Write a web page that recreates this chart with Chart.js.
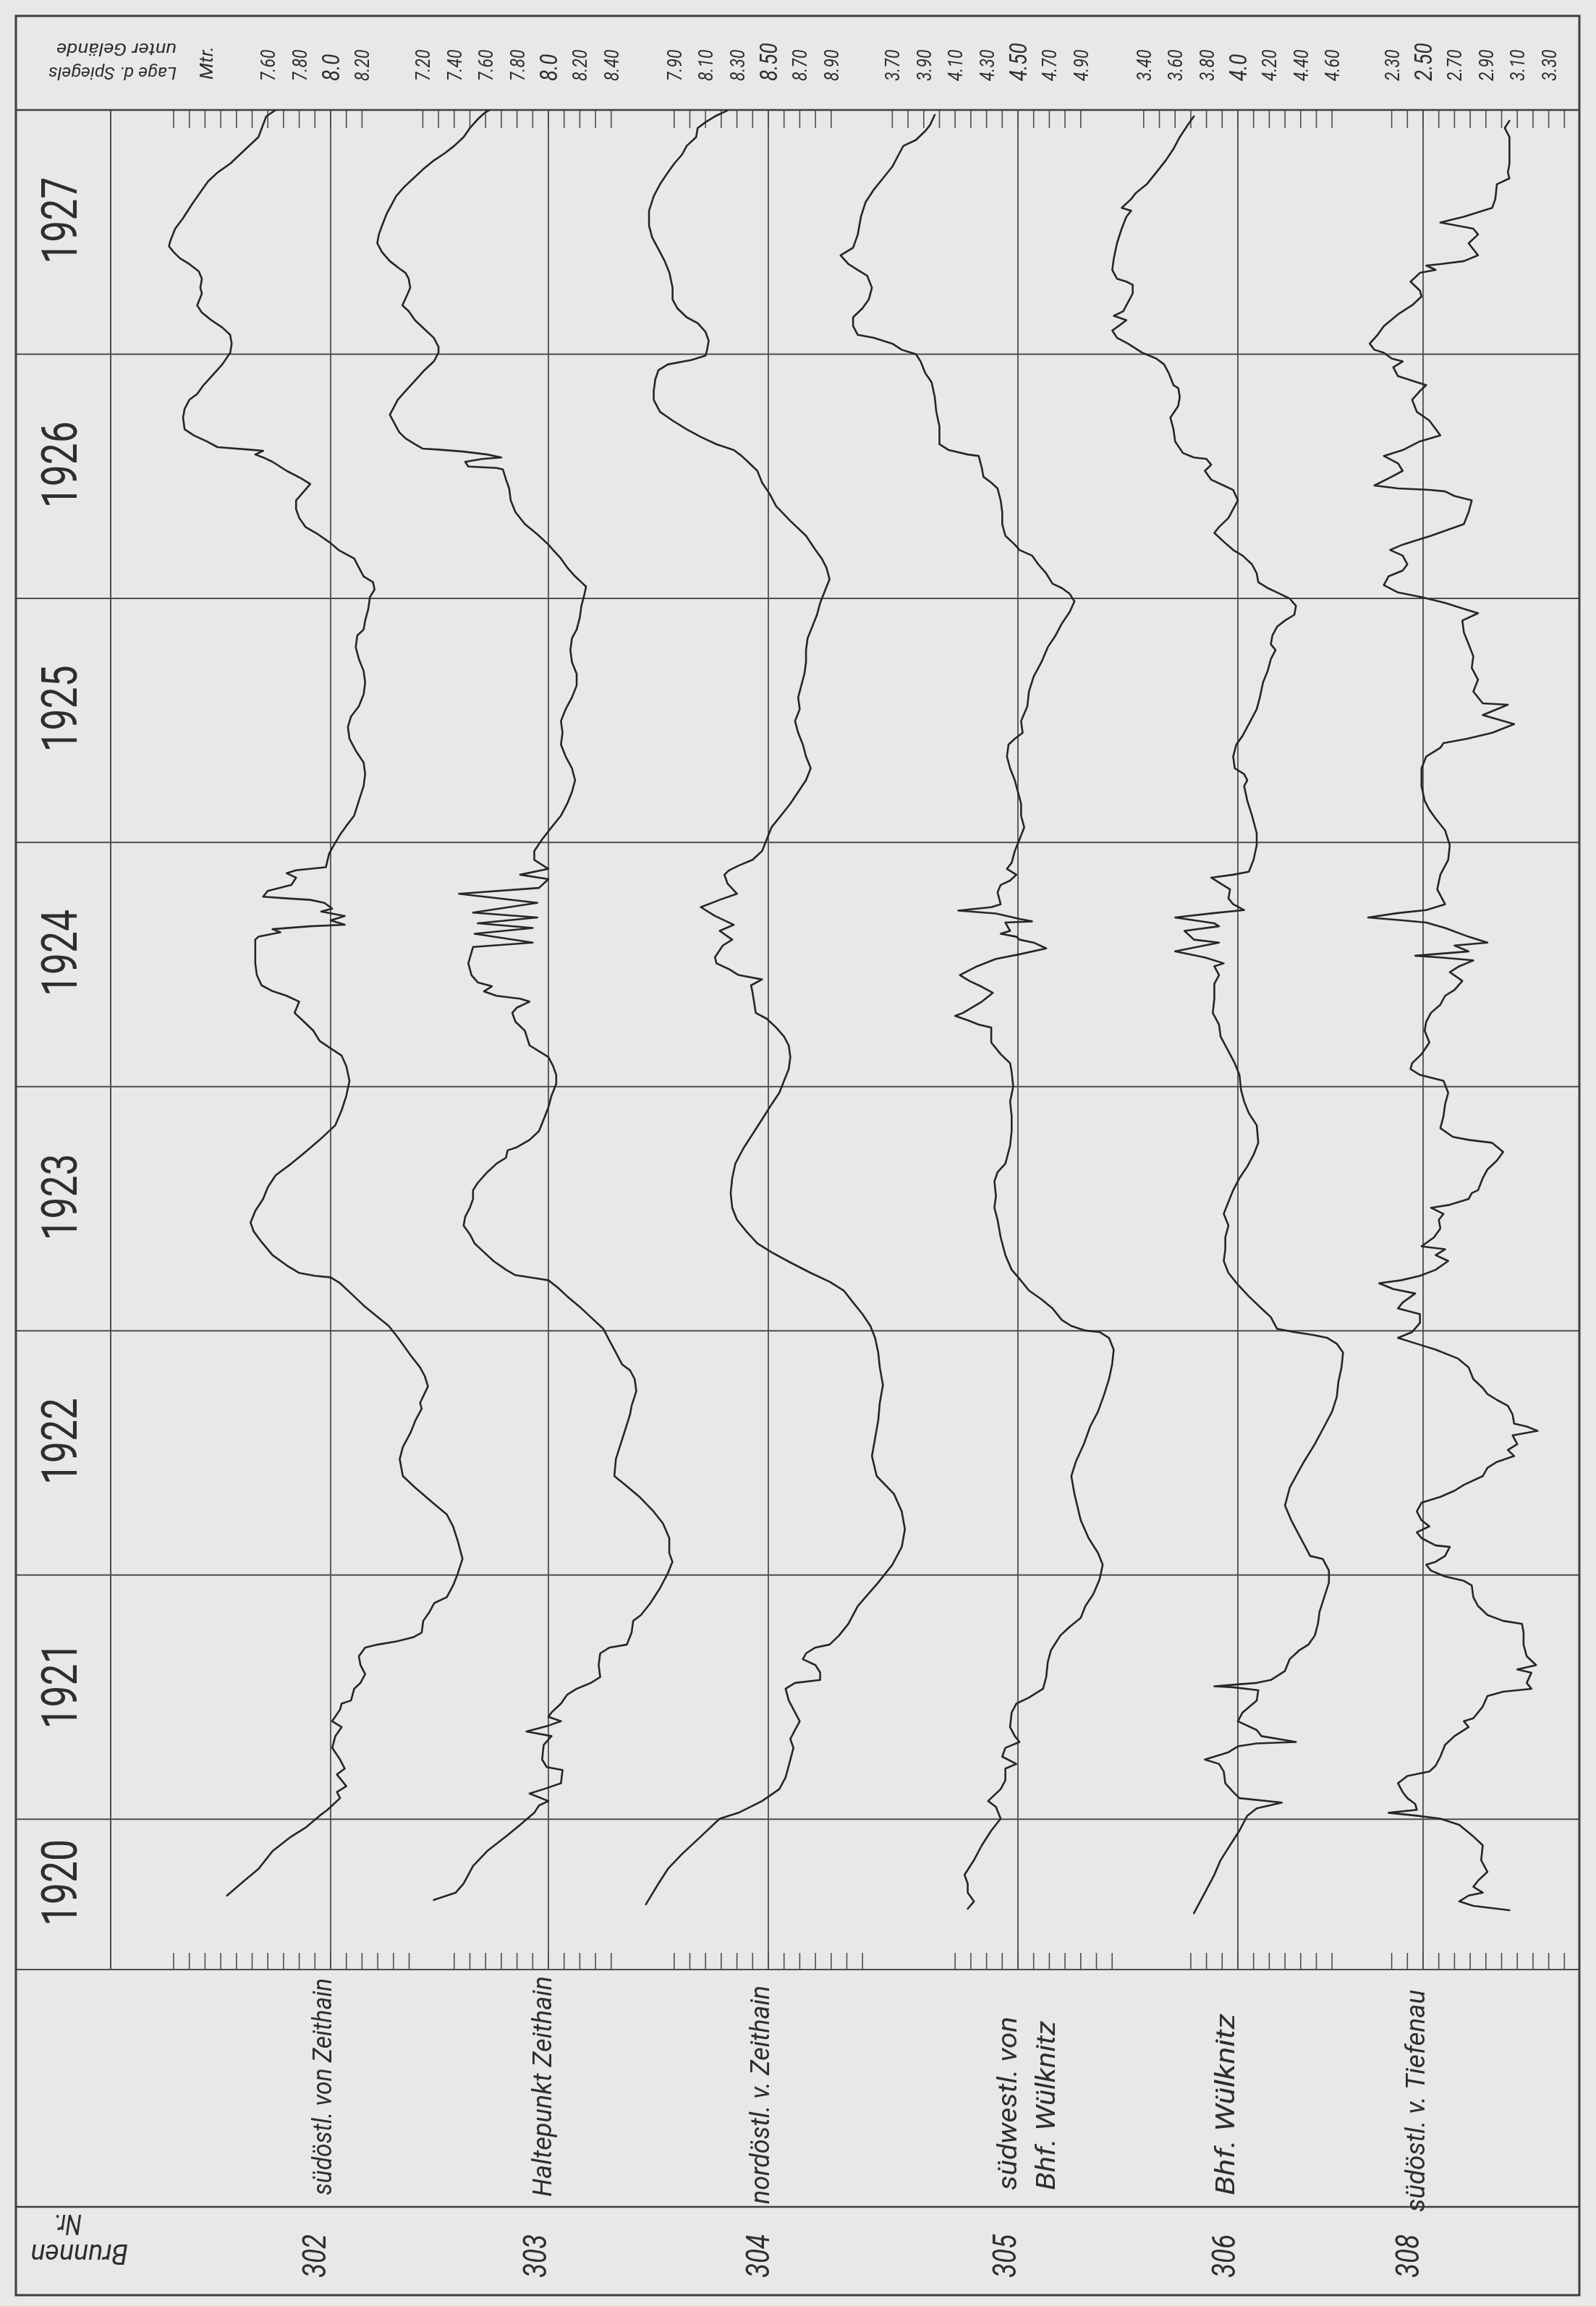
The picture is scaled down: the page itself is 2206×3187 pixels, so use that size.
<!DOCTYPE html>
<html lang="de">
<head>
<meta charset="utf-8">
<title>Brunnen 302–308 · Lage des Spiegels unter Gelände 1920–1927</title>
<script src="https://cdn.jsdelivr.net/npm/chart.js@4.4.1/dist/chart.umd.min.js"></script>
<style>
html,body{margin:0;padding:0;background:#e7e7e5;}
#wrap{position:relative;width:2206px;height:3187px;}
canvas{display:block;}
</style>
</head>
<body>
<div id="wrap"><canvas id="chart" width="2206" height="3187"></canvas></div>
<script>
// ---------------- DATA ----------------
const WELL_IDS = ['302', '303', '304', '305', '306', '308'];
const WELL_NAMES = [
  ['südöstl. von Zeithain'],
  ['Haltepunkt Zeithain'],
  ['nordöstl. v. Zeithain'],
  ['südwestl. von', 'Bhf. Wülknitz'],
  ['Bhf. Wülknitz'],
  ['südöstl. v. Tiefenau']
];
const YEAR_LABELS = ['1920', '1921', '1922', '1923', '1924', '1925', '1926', '1927'];
const YEAR_BOUNDS = [1921, 1922, 1923, 1924, 1925, 1926, 1927, 1928];
const T_START = 1920.384;   // first day shown (about mid May 1920)
const T_END = 1928.0;
// depth (m below ground) of each well's reference grid line
const REF_DEPTH = [8.0, 8.0, 8.5, 4.5, 4.0, 2.5];
// depth tick labels written in the header, per well
const DEPTH_LABELS = [
  ['7.60', '7.80', '8.0', '8.20'],
  ['7.20', '7.40', '7.60', '7.80', '8.0', '8.20', '8.40'],
  ['7.90', '8.10', '8.30', '8.50', '8.70', '8.90'],
  ['3.70', '3.90', '4.10', '4.30', '4.50', '4.70', '4.90'],
  ['3.40', '3.60', '3.80', '4.0', '4.20', '4.40', '4.60'],
  ['2.30', '2.50', '2.70', '2.90', '3.10', '3.30']
];
// 0.1 m tick ranges on the upper and lower axis, per well
const TOP_TICK_RANGE = [[7.0, 8.2], [7.2, 8.4], [7.9, 8.9], [3.7, 4.9], [3.4, 4.6], [2.3, 3.4]];
const BOTTOM_TICK_RANGE = [[7.0, 8.5], [7.4, 8.4], [7.9, 9.1], [4.1, 5.1], [3.7, 4.6], [2.3, 3.4]];

// [time in years, depth of water level below ground in m]
const well302 = [[1928.013,7.68],[1927.974,7.59],[1927.889,7.54],[1927.877,7.52],[1927.835,7.45],[1927.780,7.36],[1927.744,7.28],[1927.708,7.22],[1927.672,7.18],[1927.617,7.12],[1927.557,7.06],[1927.514,7.01],[1927.466,6.98],[1927.442,6.97],[1927.418,7.00],[1927.393,7.04],[1927.369,7.10],[1927.339,7.16],[1927.309,7.18],[1927.272,7.17],[1927.248,7.18],[1927.200,7.15],[1927.170,7.18],[1927.139,7.24],[1927.109,7.31],[1927.079,7.36],[1927.043,7.37],[1927.006,7.36],[1926.958,7.31],[1926.915,7.25],[1926.873,7.19],[1926.837,7.15],[1926.813,7.10],[1926.776,7.07],[1926.740,7.06],[1926.692,7.07],[1926.667,7.13],[1926.643,7.21],[1926.619,7.28],[1926.609,7.48],[1926.604,7.57],[1926.589,7.52],[1926.577,7.57],[1926.559,7.63],[1926.522,7.72],[1926.492,7.81],[1926.468,7.87],[1926.438,7.83],[1926.401,7.78],[1926.365,7.78],[1926.329,7.80],[1926.292,7.84],[1926.262,7.92],[1926.226,8.00],[1926.198,8.05],[1926.163,8.15],[1926.126,8.18],[1926.090,8.21],[1926.066,8.27],[1926.036,8.28],[1926.005,8.25],[1925.957,8.24],[1925.909,8.22],[1925.872,8.21],[1925.848,8.17],[1925.800,8.16],[1925.751,8.18],[1925.703,8.21],[1925.655,8.22],[1925.606,8.21],[1925.558,8.18],[1925.516,8.13],[1925.473,8.11],[1925.425,8.12],[1925.376,8.16],[1925.328,8.21],[1925.280,8.22],[1925.231,8.21],[1925.171,8.18],[1925.110,8.15],[1925.068,8.10],[1925.032,8.06],[1924.989,8.02],[1924.953,7.99],[1924.899,7.97],[1924.886,7.78],[1924.874,7.72],[1924.856,7.78],[1924.826,7.75],[1924.802,7.60],[1924.778,7.57],[1924.771,7.72],[1924.765,7.87],[1924.753,7.96],[1924.729,8.01],[1924.717,7.94],[1924.699,8.09],[1924.681,8.00],[1924.663,8.09],[1924.657,7.87],[1924.645,7.63],[1924.632,7.68],[1924.614,7.54],[1924.602,7.52],[1924.505,7.52],[1924.457,7.53],[1924.415,7.56],[1924.391,7.63],[1924.372,7.72],[1924.348,7.80],[1924.302,7.77],[1924.266,7.83],[1924.229,7.89],[1924.187,7.93],[1924.157,8.00],[1924.127,8.07],[1924.084,8.10],[1924.024,8.12],[1923.963,8.10],[1923.903,8.07],[1923.842,8.03],[1923.782,7.93],[1923.733,7.84],[1923.685,7.75],[1923.637,7.65],[1923.588,7.60],[1923.540,7.57],[1923.491,7.52],[1923.443,7.49],[1923.407,7.51],[1923.364,7.56],[1923.310,7.63],[1923.268,7.72],[1923.237,7.80],[1923.225,7.90],[1923.219,8.00],[1923.195,8.06],[1923.153,8.13],[1923.104,8.21],[1923.056,8.30],[1923.020,8.37],[1922.971,8.43],[1922.899,8.51],[1922.850,8.57],[1922.814,8.60],[1922.772,8.62],[1922.705,8.57],[1922.681,8.58],[1922.633,8.54],[1922.584,8.51],[1922.524,8.46],[1922.475,8.44],[1922.405,8.46],[1922.357,8.54],[1922.296,8.65],[1922.248,8.74],[1922.199,8.78],[1922.139,8.81],[1922.066,8.84],[1922.006,8.81],[1921.957,8.78],[1921.909,8.74],[1921.885,8.66],[1921.849,8.63],[1921.812,8.59],[1921.764,8.58],[1921.746,8.53],[1921.728,8.42],[1921.715,8.30],[1921.703,8.22],[1921.667,8.18],[1921.631,8.19],[1921.594,8.22],[1921.558,8.19],[1921.534,8.15],[1921.486,8.13],[1921.473,8.07],[1921.449,8.06],[1921.401,8.01],[1921.377,8.07],[1921.340,8.03],[1921.292,8.01],[1921.244,8.06],[1921.207,8.09],[1921.183,8.04],[1921.135,8.10],[1921.111,8.04],[1921.086,8.06],[1921.038,7.98],[1921.014,7.93],[1920.965,7.84],[1920.929,7.75],[1920.869,7.63],[1920.796,7.54],[1920.748,7.45],[1920.687,7.34]];

const well303 = [[1928.010,7.65],[1927.986,7.59],[1927.962,7.55],[1927.926,7.50],[1927.889,7.46],[1927.853,7.40],[1927.823,7.34],[1927.793,7.27],[1927.756,7.20],[1927.720,7.14],[1927.684,7.08],[1927.647,7.03],[1927.611,7.00],[1927.575,6.97],[1927.526,6.94],[1927.490,6.92],[1927.454,6.91],[1927.418,6.94],[1927.381,6.99],[1927.351,7.05],[1927.333,7.09],[1927.309,7.11],[1927.272,7.12],[1927.242,7.10],[1927.200,7.07],[1927.176,7.11],[1927.139,7.15],[1927.103,7.21],[1927.067,7.27],[1927.030,7.30],[1927.006,7.30],[1926.970,7.27],[1926.934,7.21],[1926.891,7.15],[1926.849,7.09],[1926.813,7.04],[1926.776,7.01],[1926.752,6.99],[1926.716,7.02],[1926.680,7.05],[1926.655,7.09],[1926.631,7.15],[1926.613,7.20],[1926.609,7.30],[1926.601,7.46],[1926.589,7.61],[1926.577,7.70],[1926.571,7.58],[1926.559,7.47],[1926.540,7.49],[1926.534,7.67],[1926.528,7.71],[1926.486,7.73],[1926.450,7.75],[1926.401,7.76],[1926.353,7.79],[1926.304,7.85],[1926.262,7.93],[1926.220,8.00],[1926.198,8.03],[1926.163,8.08],[1926.126,8.12],[1926.090,8.17],[1926.066,8.21],[1926.048,8.24],[1926.018,8.23],[1925.969,8.21],[1925.921,8.20],[1925.872,8.18],[1925.836,8.15],[1925.788,8.14],[1925.739,8.15],[1925.691,8.18],[1925.643,8.18],[1925.594,8.15],[1925.546,8.11],[1925.497,8.08],[1925.449,8.09],[1925.401,8.08],[1925.352,8.11],[1925.304,8.15],[1925.255,8.17],[1925.207,8.15],[1925.159,8.12],[1925.110,8.08],[1925.062,8.02],[1925.013,7.96],[1924.965,7.91],[1924.929,7.91],[1924.892,8.00],[1924.868,7.82],[1924.850,8.00],[1924.814,7.94],[1924.790,7.43],[1924.753,7.93],[1924.713,7.52],[1924.693,7.93],[1924.669,7.55],[1924.650,7.90],[1924.626,7.53],[1924.590,7.90],[1924.572,7.52],[1924.505,7.49],[1924.457,7.51],[1924.427,7.55],[1924.411,7.64],[1924.390,7.59],[1924.372,7.67],[1924.360,7.82],[1924.348,7.88],[1924.324,7.80],[1924.302,7.77],[1924.266,7.79],[1924.229,7.85],[1924.169,7.88],[1924.145,7.94],[1924.121,8.00],[1924.084,8.03],[1924.048,8.05],[1924.012,8.05],[1923.963,8.02],[1923.915,8.00],[1923.866,7.97],[1923.818,7.94],[1923.782,7.88],[1923.752,7.80],[1923.739,7.74],[1923.709,7.73],[1923.685,7.67],[1923.649,7.61],[1923.606,7.55],[1923.576,7.52],[1923.540,7.52],[1923.504,7.50],[1923.467,7.47],[1923.431,7.46],[1923.395,7.50],[1923.358,7.53],[1923.322,7.59],[1923.286,7.65],[1923.250,7.73],[1923.228,7.79],[1923.219,7.88],[1923.207,8.00],[1923.177,8.06],[1923.141,8.12],[1923.098,8.20],[1923.056,8.27],[1923.008,8.35],[1922.959,8.39],[1922.911,8.43],[1922.862,8.47],[1922.838,8.52],[1922.802,8.55],[1922.753,8.56],[1922.693,8.53],[1922.657,8.52],[1922.596,8.49],[1922.536,8.46],[1922.475,8.43],[1922.405,8.42],[1922.369,8.49],[1922.320,8.58],[1922.260,8.67],[1922.211,8.73],[1922.151,8.77],[1922.090,8.77],[1922.054,8.79],[1922.006,8.76],[1921.945,8.71],[1921.885,8.65],[1921.836,8.59],[1921.812,8.54],[1921.764,8.53],[1921.715,8.50],[1921.703,8.39],[1921.679,8.33],[1921.631,8.32],[1921.582,8.33],[1921.558,8.27],[1921.534,8.18],[1921.510,8.12],[1921.473,8.08],[1921.437,8.02],[1921.419,8.00],[1921.401,8.08],[1921.383,8.00],[1921.359,7.86],[1921.340,8.02],[1921.304,7.97],[1921.244,7.96],[1921.213,7.99],[1921.201,8.09],[1921.147,8.08],[1921.123,7.97],[1921.105,7.88],[1921.074,8.00],[1921.056,7.94],[1921.026,7.91],[1920.977,7.82],[1920.929,7.73],[1920.869,7.61],[1920.808,7.52],[1920.736,7.46],[1920.699,7.41],[1920.669,7.27]];

const well304 = [[1927.998,8.24],[1927.974,8.16],[1927.950,8.10],[1927.926,8.05],[1927.889,8.04],[1927.853,7.98],[1927.817,7.95],[1927.780,7.90],[1927.744,7.86],[1927.696,7.81],[1927.647,7.77],[1927.587,7.74],[1927.526,7.74],[1927.478,7.76],[1927.430,7.80],[1927.381,7.84],[1927.333,7.87],[1927.272,7.89],[1927.224,7.89],[1927.188,7.92],[1927.151,7.98],[1927.127,8.05],[1927.091,8.10],[1927.055,8.12],[1927.018,8.11],[1926.994,8.10],[1926.976,8.01],[1926.958,7.86],[1926.934,7.80],[1926.897,7.78],[1926.849,7.77],[1926.813,7.77],[1926.764,7.81],[1926.728,7.89],[1926.692,7.98],[1926.661,8.07],[1926.631,8.17],[1926.607,8.28],[1926.583,8.33],[1926.559,8.37],[1926.522,8.43],[1926.474,8.46],[1926.426,8.51],[1926.377,8.55],[1926.317,8.64],[1926.256,8.74],[1926.198,8.80],[1926.163,8.84],[1926.126,8.87],[1926.078,8.89],[1926.030,8.86],[1925.981,8.83],[1925.933,8.81],[1925.884,8.78],[1925.836,8.75],[1925.788,8.74],[1925.739,8.74],[1925.691,8.73],[1925.643,8.71],[1925.594,8.69],[1925.546,8.70],[1925.497,8.67],[1925.449,8.69],[1925.401,8.72],[1925.352,8.74],[1925.304,8.77],[1925.255,8.74],[1925.207,8.69],[1925.159,8.64],[1925.110,8.58],[1925.062,8.52],[1925.013,8.49],[1924.965,8.46],[1924.929,8.40],[1924.905,8.31],[1924.886,8.25],[1924.868,8.22],[1924.832,8.24],[1924.790,8.30],[1924.765,8.19],[1924.735,8.07],[1924.699,8.16],[1924.663,8.28],[1924.638,8.19],[1924.602,8.27],[1924.578,8.21],[1924.530,8.16],[1924.505,8.17],[1924.481,8.25],[1924.457,8.31],[1924.439,8.46],[1924.415,8.39],[1924.384,8.40],[1924.302,8.42],[1924.278,8.49],[1924.242,8.55],[1924.205,8.60],[1924.169,8.63],[1924.121,8.64],[1924.072,8.63],[1924.024,8.60],[1923.975,8.57],[1923.927,8.52],[1923.866,8.46],[1923.806,8.40],[1923.746,8.34],[1923.685,8.29],[1923.625,8.27],[1923.564,8.26],[1923.504,8.27],[1923.455,8.30],[1923.407,8.36],[1923.358,8.43],[1923.322,8.52],[1923.280,8.64],[1923.237,8.77],[1923.201,8.89],[1923.165,8.98],[1923.116,9.04],[1923.068,9.10],[1923.020,9.15],[1922.971,9.18],[1922.911,9.20],[1922.850,9.21],[1922.778,9.23],[1922.705,9.21],[1922.633,9.20],[1922.560,9.18],[1922.487,9.16],[1922.405,9.19],[1922.332,9.30],[1922.260,9.35],[1922.187,9.37],[1922.115,9.35],[1922.042,9.29],[1921.969,9.20],[1921.873,9.07],[1921.800,9.01],[1921.752,8.95],[1921.715,8.89],[1921.703,8.80],[1921.679,8.74],[1921.655,8.72],[1921.631,8.80],[1921.601,8.83],[1921.570,8.83],[1921.558,8.67],[1921.534,8.61],[1921.486,8.63],[1921.437,8.67],[1921.401,8.70],[1921.365,8.67],[1921.328,8.64],[1921.292,8.66],[1921.219,8.63],[1921.171,8.61],[1921.123,8.57],[1921.074,8.46],[1921.026,8.31],[1921.002,8.19],[1920.929,8.07],[1920.857,7.95],[1920.796,7.86],[1920.736,7.80],[1920.651,7.72]];

const well305 = [[1927.980,3.97],[1927.938,3.94],[1927.914,3.91],[1927.877,3.85],[1927.853,3.77],[1927.817,3.74],[1927.768,3.70],[1927.720,3.64],[1927.672,3.58],[1927.623,3.53],[1927.563,3.50],[1927.490,3.48],[1927.436,3.45],[1927.405,3.37],[1927.369,3.42],[1927.345,3.48],[1927.321,3.54],[1927.272,3.57],[1927.224,3.55],[1927.188,3.51],[1927.151,3.45],[1927.115,3.45],[1927.079,3.48],[1927.067,3.58],[1927.043,3.70],[1927.018,3.76],[1927.000,3.85],[1926.970,3.88],[1926.922,3.91],[1926.885,3.95],[1926.825,3.97],[1926.764,3.98],[1926.704,4.00],[1926.631,4.00],[1926.607,4.06],[1926.589,4.18],[1926.583,4.25],[1926.534,4.27],[1926.498,4.28],[1926.474,4.33],[1926.450,4.37],[1926.401,4.39],[1926.353,4.40],[1926.304,4.40],[1926.256,4.42],[1926.220,4.48],[1926.198,4.51],[1926.175,4.59],[1926.139,4.63],[1926.102,4.68],[1926.060,4.72],[1926.042,4.78],[1926.018,4.83],[1925.987,4.86],[1925.945,4.83],[1925.897,4.78],[1925.848,4.74],[1925.800,4.69],[1925.739,4.65],[1925.679,4.60],[1925.618,4.57],[1925.558,4.56],[1925.497,4.52],[1925.449,4.53],[1925.425,4.48],[1925.401,4.44],[1925.352,4.43],[1925.304,4.45],[1925.255,4.48],[1925.207,4.50],[1925.159,4.52],[1925.110,4.52],[1925.062,4.54],[1925.013,4.51],[1924.965,4.48],[1924.917,4.46],[1924.892,4.43],[1924.868,4.49],[1924.844,4.45],[1924.826,4.39],[1924.796,4.37],[1924.747,4.39],[1924.735,4.33],[1924.721,4.12],[1924.709,4.36],[1924.687,4.51],[1924.677,4.59],[1924.672,4.42],[1924.638,4.45],[1924.626,4.39],[1924.614,4.49],[1924.602,4.51],[1924.590,4.60],[1924.566,4.68],[1924.542,4.51],[1924.523,4.36],[1924.493,4.24],[1924.457,4.13],[1924.433,4.19],[1924.409,4.27],[1924.384,4.34],[1924.348,4.27],[1924.302,4.15],[1924.290,4.10],[1924.272,4.18],[1924.254,4.25],[1924.242,4.33],[1924.181,4.33],[1924.133,4.39],[1924.096,4.45],[1924.060,4.46],[1924.000,4.47],[1923.939,4.45],[1923.879,4.46],[1923.818,4.46],[1923.758,4.45],[1923.709,4.43],[1923.685,4.42],[1923.649,4.37],[1923.612,4.35],[1923.552,4.36],[1923.504,4.35],[1923.455,4.37],[1923.383,4.39],[1923.310,4.42],[1923.250,4.46],[1923.213,4.51],[1923.165,4.57],[1923.129,4.65],[1923.092,4.72],[1923.044,4.78],[1923.020,4.84],[1923.001,4.93],[1922.995,5.02],[1922.971,5.08],[1922.923,5.11],[1922.862,5.10],[1922.802,5.08],[1922.741,5.05],[1922.669,5.01],[1922.608,4.96],[1922.536,4.92],[1922.466,4.87],[1922.405,4.84],[1922.332,4.86],[1922.224,4.90],[1922.151,4.95],[1922.090,5.01],[1922.042,5.04],[1921.982,5.02],[1921.921,4.98],[1921.873,4.93],[1921.824,4.90],[1921.788,4.83],[1921.752,4.77],[1921.691,4.71],[1921.643,4.69],[1921.582,4.68],[1921.534,4.66],[1921.498,4.57],[1921.473,4.49],[1921.437,4.46],[1921.377,4.45],[1921.340,4.48],[1921.316,4.51],[1921.292,4.42],[1921.256,4.40],[1921.226,4.49],[1921.207,4.42],[1921.159,4.42],[1921.123,4.39],[1921.074,4.31],[1921.050,4.36],[1921.002,4.39],[1920.953,4.33],[1920.893,4.27],[1920.832,4.22],[1920.772,4.16],[1920.736,4.18],[1920.699,4.18],[1920.663,4.22],[1920.633,4.18]];

const well306 = [[1927.974,3.72],[1927.938,3.68],[1927.889,3.63],[1927.841,3.59],[1927.793,3.54],[1927.744,3.48],[1927.696,3.42],[1927.660,3.35],[1927.635,3.32],[1927.599,3.26],[1927.587,3.32],[1927.563,3.29],[1927.514,3.26],[1927.454,3.23],[1927.393,3.21],[1927.345,3.20],[1927.309,3.23],[1927.297,3.29],[1927.284,3.33],[1927.248,3.33],[1927.212,3.30],[1927.176,3.27],[1927.157,3.21],[1927.139,3.29],[1927.115,3.24],[1927.097,3.20],[1927.067,3.23],[1927.043,3.30],[1927.006,3.39],[1926.982,3.48],[1926.958,3.53],[1926.922,3.56],[1926.873,3.59],[1926.861,3.62],[1926.825,3.63],[1926.788,3.62],[1926.740,3.57],[1926.692,3.59],[1926.643,3.60],[1926.595,3.65],[1926.577,3.72],[1926.571,3.80],[1926.547,3.83],[1926.522,3.79],[1926.486,3.83],[1926.462,3.91],[1926.444,3.97],[1926.401,4.00],[1926.365,3.97],[1926.329,3.94],[1926.292,3.88],[1926.268,3.85],[1926.232,3.91],[1926.198,3.97],[1926.175,4.03],[1926.139,4.09],[1926.102,4.12],[1926.066,4.13],[1926.042,4.19],[1926.018,4.27],[1925.999,4.33],[1925.969,4.37],[1925.933,4.36],[1925.909,4.30],[1925.884,4.25],[1925.848,4.22],[1925.812,4.21],[1925.788,4.24],[1925.751,4.21],[1925.703,4.19],[1925.655,4.16],[1925.594,4.14],[1925.546,4.12],[1925.485,4.07],[1925.437,4.03],[1925.401,3.99],[1925.352,3.97],[1925.304,3.98],[1925.280,4.04],[1925.255,4.06],[1925.231,4.04],[1925.171,4.06],[1925.110,4.09],[1925.038,4.12],[1924.989,4.12],[1924.929,4.10],[1924.880,4.07],[1924.868,3.97],[1924.856,3.83],[1924.832,3.89],[1924.808,3.95],[1924.771,3.94],[1924.747,3.97],[1924.723,4.04],[1924.711,3.85],[1924.693,3.60],[1924.669,3.85],[1924.657,3.88],[1924.638,3.66],[1924.602,3.72],[1924.590,3.88],[1924.554,3.60],[1924.529,3.79],[1924.505,3.91],[1924.493,3.85],[1924.457,3.88],[1924.421,3.85],[1924.360,3.85],[1924.302,3.84],[1924.254,3.88],[1924.205,3.89],[1924.145,3.94],[1924.096,3.98],[1924.048,4.01],[1923.987,4.02],[1923.939,4.04],[1923.891,4.07],[1923.842,4.12],[1923.770,4.13],[1923.721,4.10],[1923.673,4.06],[1923.625,4.01],[1923.576,3.97],[1923.528,3.94],[1923.479,3.91],[1923.431,3.94],[1923.383,3.92],[1923.334,3.92],[1923.286,3.91],[1923.237,3.94],[1923.189,4.00],[1923.141,4.07],[1923.092,4.15],[1923.056,4.21],[1923.008,4.25],[1922.995,4.36],[1922.983,4.48],[1922.971,4.57],[1922.947,4.63],[1922.911,4.67],[1922.850,4.66],[1922.790,4.64],[1922.729,4.63],[1922.669,4.60],[1922.608,4.55],[1922.536,4.49],[1922.463,4.42],[1922.405,4.37],[1922.357,4.33],[1922.284,4.30],[1922.224,4.34],[1922.163,4.39],[1922.115,4.43],[1922.078,4.46],[1922.066,4.54],[1922.018,4.58],[1921.969,4.58],[1921.909,4.55],[1921.849,4.52],[1921.800,4.51],[1921.752,4.49],[1921.715,4.45],[1921.691,4.39],[1921.655,4.33],[1921.607,4.30],[1921.570,4.21],[1921.558,4.12],[1921.552,4.00],[1921.544,3.85],[1921.540,3.97],[1921.528,4.13],[1921.486,4.12],[1921.437,4.03],[1921.401,4.00],[1921.365,4.12],[1921.340,4.15],[1921.316,4.37],[1921.310,4.12],[1921.298,4.00],[1921.274,3.94],[1921.244,3.79],[1921.226,3.88],[1921.195,3.91],[1921.147,3.92],[1921.111,3.97],[1921.086,4.01],[1921.068,4.28],[1921.044,4.12],[1921.014,4.06],[1920.953,4.01],[1920.893,3.95],[1920.832,3.89],[1920.772,3.85],[1920.711,3.80],[1920.663,3.76],[1920.615,3.72]];

const well308 = [[1927.956,3.05],[1927.926,3.02],[1927.889,3.05],[1927.841,3.05],[1927.780,3.05],[1927.744,3.04],[1927.720,3.05],[1927.696,2.97],[1927.635,2.96],[1927.599,2.94],[1927.563,2.76],[1927.539,2.61],[1927.514,2.82],[1927.490,2.85],[1927.454,2.79],[1927.405,2.85],[1927.381,2.76],[1927.369,2.61],[1927.363,2.52],[1927.345,2.58],[1927.333,2.48],[1927.297,2.42],[1927.260,2.48],[1927.236,2.49],[1927.200,2.43],[1927.163,2.34],[1927.115,2.25],[1927.079,2.21],[1927.043,2.16],[1927.018,2.19],[1927.006,2.25],[1926.982,2.30],[1926.970,2.37],[1926.946,2.31],[1926.910,2.34],[1926.885,2.46],[1926.873,2.52],[1926.849,2.48],[1926.813,2.43],[1926.764,2.46],[1926.728,2.54],[1926.667,2.61],[1926.643,2.48],[1926.607,2.37],[1926.583,2.25],[1926.553,2.34],[1926.522,2.37],[1926.498,2.30],[1926.462,2.19],[1926.450,2.34],[1926.444,2.54],[1926.438,2.64],[1926.419,2.70],[1926.401,2.81],[1926.353,2.79],[1926.304,2.76],[1926.256,2.55],[1926.220,2.37],[1926.198,2.29],[1926.175,2.37],[1926.139,2.40],[1926.114,2.37],[1926.090,2.28],[1926.054,2.25],[1926.024,2.34],[1926.005,2.49],[1925.981,2.64],[1925.957,2.76],[1925.939,2.85],[1925.909,2.75],[1925.860,2.76],[1925.812,2.79],[1925.763,2.82],[1925.715,2.81],[1925.667,2.85],[1925.618,2.82],[1925.570,2.88],[1925.564,3.04],[1925.522,2.88],[1925.485,3.08],[1925.449,2.94],[1925.425,2.78],[1925.407,2.63],[1925.388,2.61],[1925.352,2.52],[1925.304,2.49],[1925.231,2.49],[1925.171,2.51],[1925.134,2.54],[1925.098,2.58],[1925.050,2.64],[1924.989,2.67],[1924.929,2.66],[1924.868,2.61],[1924.808,2.59],[1924.747,2.64],[1924.723,2.52],[1924.711,2.34],[1924.693,2.15],[1924.681,2.37],[1924.672,2.52],[1924.650,2.64],[1924.614,2.79],[1924.590,2.91],[1924.578,2.70],[1924.554,2.79],[1924.536,2.45],[1924.529,2.61],[1924.517,2.82],[1924.493,2.73],[1924.469,2.67],[1924.433,2.75],[1924.396,2.70],[1924.372,2.64],[1924.336,2.61],[1924.302,2.55],[1924.266,2.52],[1924.229,2.51],[1924.181,2.54],[1924.133,2.49],[1924.096,2.43],[1924.072,2.42],[1924.048,2.48],[1924.024,2.63],[1923.975,2.66],[1923.927,2.64],[1923.879,2.63],[1923.830,2.61],[1923.794,2.69],[1923.782,2.79],[1923.770,2.94],[1923.733,3.01],[1923.697,2.97],[1923.661,2.91],[1923.625,2.88],[1923.576,2.85],[1923.564,2.81],[1923.540,2.79],[1923.516,2.67],[1923.504,2.55],[1923.479,2.63],[1923.455,2.60],[1923.419,2.61],[1923.383,2.57],[1923.346,2.49],[1923.334,2.64],[1923.310,2.58],[1923.286,2.66],[1923.250,2.58],[1923.225,2.48],[1923.207,2.36],[1923.195,2.22],[1923.171,2.31],[1923.153,2.45],[1923.116,2.37],[1923.092,2.34],[1923.068,2.48],[1923.032,2.48],[1922.995,2.43],[1922.971,2.34],[1922.947,2.46],[1922.923,2.58],[1922.887,2.72],[1922.850,2.79],[1922.802,2.82],[1922.766,2.88],[1922.741,2.91],[1922.717,2.97],[1922.693,3.04],[1922.657,3.07],[1922.620,3.08],[1922.608,3.16],[1922.590,3.23],[1922.572,3.07],[1922.536,3.10],[1922.512,3.04],[1922.487,3.08],[1922.463,2.97],[1922.439,2.91],[1922.405,2.88],[1922.369,2.76],[1922.345,2.70],[1922.320,2.61],[1922.296,2.49],[1922.260,2.46],[1922.224,2.49],[1922.199,2.54],[1922.175,2.46],[1922.151,2.49],[1922.121,2.58],[1922.115,2.67],[1922.078,2.64],[1922.054,2.58],[1922.042,2.52],[1922.018,2.55],[1921.994,2.64],[1921.976,2.76],[1921.957,2.81],[1921.909,2.82],[1921.873,2.85],[1921.836,2.91],[1921.812,3.01],[1921.800,3.13],[1921.764,3.14],[1921.715,3.14],[1921.667,3.16],[1921.631,3.22],[1921.613,3.10],[1921.600,3.19],[1921.558,3.16],[1921.534,3.19],[1921.522,3.01],[1921.504,2.91],[1921.461,2.88],[1921.413,2.82],[1921.401,2.76],[1921.377,2.79],[1921.340,2.70],[1921.304,2.64],[1921.256,2.61],[1921.219,2.58],[1921.195,2.54],[1921.177,2.40],[1921.147,2.34],[1921.111,2.37],[1921.086,2.40],[1921.062,2.45],[1921.038,2.46],[1921.026,2.28],[1921.014,2.46],[1921.002,2.61],[1920.977,2.73],[1920.929,2.82],[1920.893,2.88],[1920.832,2.87],[1920.784,2.91],[1920.748,2.85],[1920.723,2.82],[1920.699,2.88],[1920.687,2.79],[1920.663,2.73],[1920.645,2.82],[1920.627,3.05]];

const WELL_SERIES = [well302, well303, well304, well305, well306, well308];

// ---------------- LAYOUT / STYLE ----------------
const W = 2206, H = 3187;
const FRAME = { left: 22, top: 22, right: 2183, bottom: 3172 };
const AREA = { left: 153, top: 152, right: 2183, bottom: 2722 };
const NAME_SEP_Y = 3050;
const PANEL_LINE_X = [457, 758, 1062, 1407, 1711, 1967];  // pixel of each well's reference line
const PX_PER_M = 217;
const NUM_X = [435, 740, 1048, 1389, 1692, 1946];
const NAME_X = [[446], [750], [1051], [1393, 1446], [1694], [1957]];
const NAME_START_Y = [3034, 3036, 3046, 3027, 3034, 3057];
const NAME_LEN = [[300], [305], [302], [240, 234], [251], [307]];

const BG = '#e8e8e6';
const GRID = '#4d4d4d';
const FRAME_C = '#3f3f3f';
const CURVE = '#262626';
const INK = '#2e2e2e';
const SANS = "Roboto, 'Liberation Sans', 'DejaVu Sans', sans-serif";

function txt(ctx, s, x, y, angle, font, o) {
  o = o || {};
  ctx.save();
  ctx.translate(x, y);
  ctx.rotate(angle);
  ctx.font = font;
  let k = o.sx || 1;
  if (o.len) k = o.len / ctx.measureText(s).width;
  ctx.scale(k, 1);
  ctx.textAlign = o.align || 'left';
  ctx.textBaseline = o.baseline || 'alphabetic';
  ctx.fillStyle = o.color || INK;
  ctx.fillText(s, 0, 0);
  ctx.restore();
}
function line(ctx, x1, y1, x2, y2) {
  ctx.beginPath(); ctx.moveTo(x1, y1); ctx.lineTo(x2, y2); ctx.stroke();
}

const paperPlugin = {
  id: 'paper',
  beforeDraw(chart) {
    const ctx = chart.ctx;
    ctx.save(); ctx.fillStyle = BG; ctx.fillRect(0, 0, W, H); ctx.restore();
  }
};

const gridPlugin = {
  id: 'sheetGrid',
  beforeDatasetsDraw(chart) {
    const ctx = chart.ctx, ys = chart.scales.y;
    const top = ys.getPixelForValue(T_END), bottom = ys.getPixelForValue(T_START);
    ctx.save();
    ctx.lineCap = 'butt';
    ctx.strokeStyle = GRID; ctx.lineWidth = 2;
    // year boundaries, running through the year column as well
    YEAR_BOUNDS.forEach(b => { const y = ys.getPixelForValue(b); line(ctx, FRAME.left, y, FRAME.right, y); });
    line(ctx, FRAME.left, bottom, FRAME.right, bottom);
    // year column edge
    line(ctx, chart.chartArea.left, top, chart.chartArea.left, bottom);
    // each well's reference line and its 0.1 m ticks
    WELL_IDS.forEach((id, i) => {
      const xs = chart.scales['x' + id];
      const gx = xs.getPixelForValue(REF_DEPTH[i]);
      ctx.lineWidth = 1.8;
      line(ctx, gx, top, gx, bottom);
      ctx.lineWidth = 1.6;
      const [a0, a1] = TOP_TICK_RANGE[i];
      for (let k = Math.round(a0 * 10); k <= Math.round(a1 * 10); k++) {
        const x = xs.getPixelForValue(k / 10); line(ctx, x, top, x, top + 25);
      }
      const [b0, b1] = BOTTOM_TICK_RANGE[i];
      for (let k = Math.round(b0 * 10); k <= Math.round(b1 * 10); k++) {
        const x = xs.getPixelForValue(k / 10); line(ctx, x, bottom - 23, x, bottom);
      }
    });
    // frame and label-row separator
    ctx.strokeStyle = FRAME_C; ctx.lineWidth = 3;
    ctx.strokeRect(FRAME.left, FRAME.top, FRAME.right - FRAME.left, FRAME.bottom - FRAME.top);
    ctx.lineWidth = 2.5;
    line(ctx, FRAME.left, top, FRAME.right, top);
    line(ctx, FRAME.left, NAME_SEP_Y, FRAME.right, NAME_SEP_Y);
    ctx.restore();
  }
};

const textPlugin = {
  id: 'sheetText',
  afterDraw(chart) {
    const ctx = chart.ctx, ys = chart.scales.y;
    const UP = -Math.PI / 2, FLIP = Math.PI;
    // years
    YEAR_LABELS.forEach((lab, k) => {
      const lo = Math.max(YEAR_BOUNDS[k] - 1, T_START), hi = YEAR_BOUNDS[k];
      const cy = (ys.getPixelForValue(lo) + ys.getPixelForValue(hi)) / 2 - 16;
      txt(ctx, lab, 106, cy, UP, '400 68px ' + SANS, { align: 'center', len: 120 });
    });
    // header texts
    txt(ctx, 'Lage d. Spiegels', 244, 93, FLIP, 'italic 24px ' + SANS, { len: 177 });
    txt(ctx, 'unter Gelände', 244, 60, FLIP, 'italic 24px ' + SANS, { len: 166 });
    txt(ctx, 'Mtr.', 294, 110, UP, 'italic 26px ' + SANS, { len: 46 });
    // depth labels per well
    WELL_IDS.forEach((id, i) => {
      const xs = chart.scales['x' + id];
      DEPTH_LABELS[i].forEach(s => {
        const v = parseFloat(s);
        const big = Math.abs(v - REF_DEPTH[i]) < 1e-6;
        const fs = big ? 34 : 28;
        const x = xs.getPixelForValue(v) + fs * 0.36;
        txt(ctx, s, x, 112, UP, 'italic ' + fs + 'px ' + SANS, { sx: 0.82 });
      });
    });
    // well names and numbers
    WELL_IDS.forEach((id, i) => {
      WELL_NAMES[i].forEach((nm, j) => {
        txt(ctx, nm, NAME_X[i][j] + 12, NAME_START_Y[i], UP, 'italic 36px ' + SANS, { len: NAME_LEN[i][j] });
      });
      txt(ctx, id, NUM_X[i] + 15, 3118, UP, 'italic 44px ' + SANS, { align: 'center', len: 60 });
    });
    txt(ctx, 'Brunnen', 177, 3102, FLIP, 'italic 38px ' + SANS, { len: 135 });
    txt(ctx, 'Nr.', 113, 3061, FLIP, 'italic 38px ' + SANS, { len: 39 });
  }
};

// ---------------- CHART ----------------
const datasets = WELL_IDS.map((id, i) => ({
  label: 'Brunnen ' + id,
  data: WELL_SERIES[i].map(p => ({ x: p[1], y: p[0] })),
  xAxisID: 'x' + id,
  yAxisID: 'y',
  borderColor: CURVE,
  borderWidth: 2.6,
  pointRadius: 0,
  pointHoverRadius: 0,
  fill: false,
  tension: 0,
  borderJoinStyle: 'round',
  borderCapStyle: 'round'
}));

const scales = { y: { type: 'linear', axis: 'y', position: 'left', min: T_START, max: T_END, display: false } };
WELL_IDS.forEach((id, i) => {
  const min = REF_DEPTH[i] - (PANEL_LINE_X[i] - AREA.left) / PX_PER_M;
  scales['x' + id] = {
    type: 'linear', axis: 'x', position: 'bottom', display: false,
    min: min, max: min + (AREA.right - AREA.left) / PX_PER_M
  };
});

new Chart(document.getElementById('chart'), {
  type: 'line',
  data: { datasets },
  options: {
    responsive: false,
    animation: false,
    devicePixelRatio: 1,
    events: [],
    layout: { padding: { left: AREA.left, top: AREA.top, right: W - AREA.right, bottom: H - AREA.bottom } },
    plugins: { legend: { display: false }, tooltip: { enabled: false }, title: { display: false } },
    scales
  },
  plugins: [paperPlugin, gridPlugin, textPlugin]
});
</script>
</body>
</html>
